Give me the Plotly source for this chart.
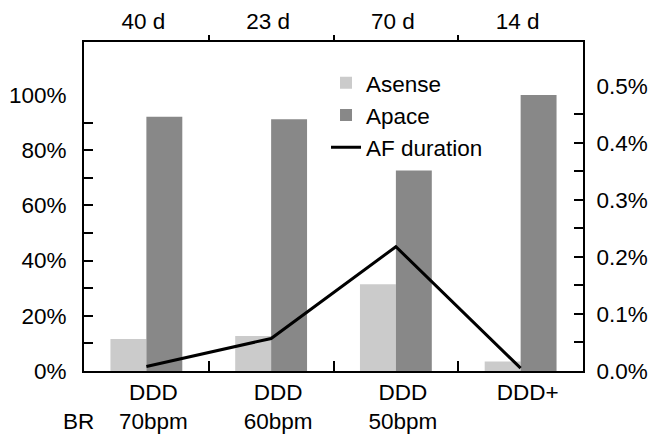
import plotly.graph_objects as go

categories = ["DDD<br>70bpm", "DDD<br>60bpm", "DDD<br>50bpm", "DDD+"]
durations = ["40 d", "23 d", "70 d", "14 d"]
asense = [11.6, 12.7, 31.4, 3.4]
apace = [92.1, 91.2, 72.6, 100.0]
af_duration = [0.008, 0.057, 0.218, 0.005]
left_ticks = [0, 20, 40, 60, 80, 100]
left_labels = ["0%", "20%", "40%", "60%", "80%", "100%"]
right_ticks = [0.0, 0.1, 0.2, 0.3, 0.4, 0.5]
right_labels = ["0.0%", "0.1%", "0.2%", "0.3%", "0.4%", "0.5%"]

xpos = list(range(len(categories)))
bounds = [i + 0.5 for i in xpos[:-1]]
FONT = "Liberation Sans, Arial, sans-serif"
FS = 22.5

fig = go.Figure()
fig.add_trace(go.Bar(x=xpos, y=asense, name="Asense", marker=dict(color="#cbcbcb", line=dict(width=0))))
fig.add_trace(go.Bar(x=xpos, y=apace, name="Apace", marker=dict(color="#888888", line=dict(width=0))))
fig.add_trace(go.Scatter(x=xpos, y=af_duration, name="AF duration", mode="lines",
                         line=dict(color="black", width=3), xaxis="x2", yaxis="y2"))

fig.update_layout(
    width=648, height=426,
    margin=dict(l=76, r=73, t=34, b=63),
    paper_bgcolor="white", plot_bgcolor="white",
    font=dict(family=FONT, size=FS, color="black"),
    barmode="group", bargap=0.424, bargroupgap=0,
    showlegend=True,
    legend=dict(x=0.485, y=0.94, xanchor="left", yanchor="top",
                bgcolor="rgba(0,0,0,0)", font=dict(size=FS), tracegroupgap=0),
    xaxis=dict(range=[-0.5, 3.5], tickmode="array", tickvals=xpos, ticktext=categories, ticks="",
               showline=True, linecolor="black", linewidth=2, showgrid=False, zeroline=False,
               automargin=False, ticklabelshift=7, ticklabelstandoff=0,
               minor=dict(tickmode="array", tickvals=bounds, ticks="inside", ticklen=10,
                          tickwidth=1.5, tickcolor="black", showgrid=False)),
    xaxis2=dict(range=[-0.5, 3.5], overlaying="x", side="top", anchor="y",
                tickmode="array", tickvals=xpos, ticktext=durations, ticks="",
                showline=True, linecolor="black", linewidth=2, showgrid=False, zeroline=False,
                automargin=False, ticklabelshift=-3, ticklabelstandoff=2,
                minor=dict(tickmode="array", tickvals=bounds, ticks="outside", ticklen=5,
                           tickwidth=1.5, tickcolor="black", showgrid=False)),
    yaxis=dict(range=[0, 119.2], tickmode="array", tickvals=left_ticks, ticktext=left_labels, ticks="",
               showline=True, linecolor="black", linewidth=2, showgrid=False, zeroline=False,
               automargin=False, ticklabelstandoff=11,
               minor=dict(tickmode="array", tickvals=[10, 20, 30, 40, 50, 60, 70, 80, 90], ticks="inside",
                          ticklen=9, tickwidth=1.5, tickcolor="black", showgrid=False)),
    yaxis2=dict(range=[0, 0.577], overlaying="y", side="right", anchor="x",
                tickmode="array", tickvals=right_ticks, ticktext=right_labels, ticks="",
                showline=True, linecolor="black", linewidth=2, showgrid=False, zeroline=False,
                automargin=False, ticklabelstandoff=7,
                minor=dict(tickmode="array", tickvals=[0.05, 0.1, 0.15, 0.2, 0.25, 0.3, 0.35, 0.4, 0.45],
                           ticks="inside", ticklen=9, tickwidth=1.5, tickcolor="black", showgrid=False)),
    annotations=[dict(text="BR", xref="paper", yref="paper", x=-0.012, y=-0.155,
                      xanchor="center", yanchor="middle", showarrow=False, font=dict(size=FS))],
)

fig.write_html("out.html")
